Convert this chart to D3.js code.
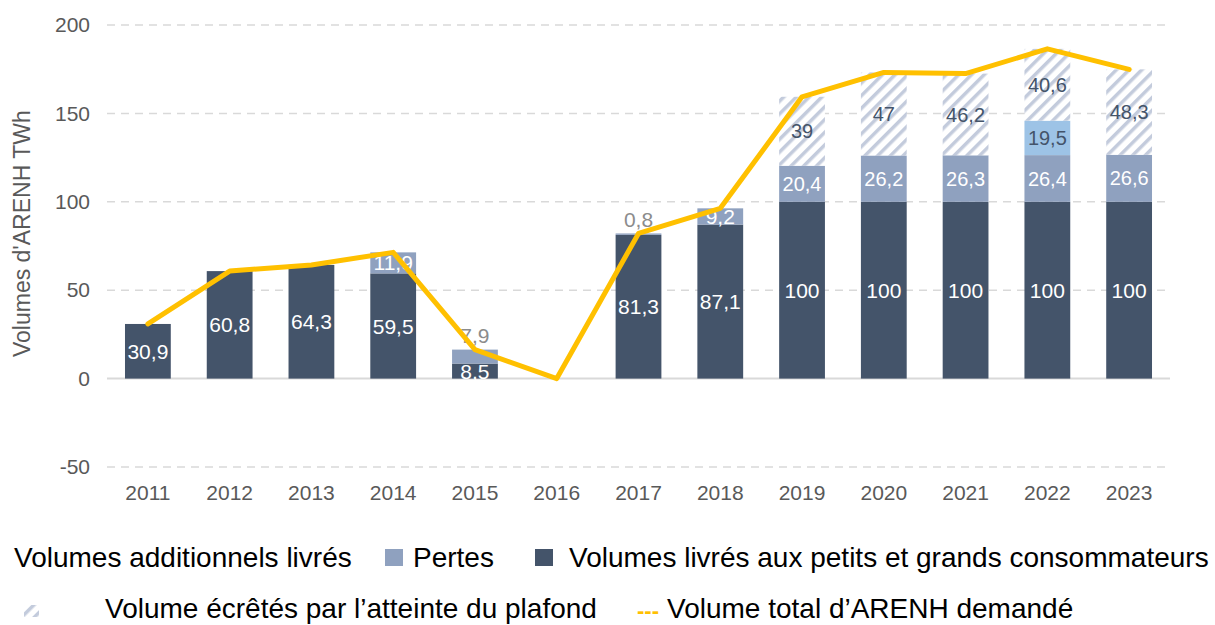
<!DOCTYPE html>
<html>
<head>
<meta charset="utf-8">
<script src="https://cdn.jsdelivr.net/npm/d3@7"></script>
<style>
  body { margin: 0; background: #fff; }
  svg text { font-family: "Liberation Sans", Arial, sans-serif; }
</style>
</head>
<body>
<div id="chart"></div>
<script>
'use strict';

var years = ['2011', '2012', '2013', '2014', '2015', '2016', '2017', '2018', '2019', '2020', '2021', '2022', '2023'];
var livres = [30.9, 60.8, 64.3, 59.5, 8.5, 0, 81.3, 87.1, 100, 100, 100, 100, 100];
var pertes = [0, 0, 0, 11.9, 7.9, 0, 0.8, 9.2, 20.4, 26.2, 26.3, 26.4, 26.6];
var additionnels = [0, 0, 0, 0, 0, 0, 0, 0, 0, 0, 0, 19.5, 0];
var ecretes = [0, 0, 0, 0, 0, 0, 0, 0, 39, 47, 46.2, 40.6, 48.3];
var demande = [30.9, 60.8, 64.3, 71.4, 16.4, 0, 82.1, 96.3, 159.4, 173.2, 172.5, 186.5, 174.9];
var yTicks = [-50, 0, 50, 100, 150, 200];

var W = 1215, H = 625;
var C_DARK = '#44546a', C_PERTES = '#8fa1bf', C_ADD = '#9dc3e6', C_HATCH = '#c3cbdc', C_LINE = '#ffc000';

var svg = d3.select('#chart').append('svg').attr('width', W).attr('height', H);

var defs = svg.append('defs');
var pat = defs.append('pattern')
    .attr('id', 'hatch')
    .attr('patternUnits', 'userSpaceOnUse')
    .attr('width', 9).attr('height', 9)
    .attr('patternTransform', 'rotate(45)');
pat.append('rect').attr('width', 9).attr('height', 9).attr('fill', '#fff');
pat.append('rect').attr('x', 0).attr('width', 3.5).attr('height', 9).attr('fill', C_HATCH);

var x = d3.scaleBand().domain(years).range([107, 1170]).paddingInner(0.44).paddingOuter(0.22);
var y = d3.scaleLinear().domain([-50, 200]).range([467, 25]);

// grid
var grid = svg.append('g');
grid.selectAll('line').data(yTicks).enter().append('line')
    .attr('x1', 107).attr('x2', 1170)
    .attr('y1', function (d) { return y(d); })
    .attr('y2', function (d) { return y(d); })
    .attr('stroke', '#d9d9d9')
    .attr('stroke-width', function (d) { return d === 0 ? 2 : 1.5; })
    .attr('stroke-dasharray', function (d) { return d === 0 ? null : '8,6'; });

// y axis labels
var yAxis = svg.append('g').attr('transform', 'translate(90,0)')
    .call(d3.axisLeft(y).tickValues(yTicks).tickSize(0).tickPadding(0)
        .tickFormat(function (d) { return String(d); }));
yAxis.select('.domain').remove();
yAxis.selectAll('text').attr('font-size', 21).attr('fill', '#595959')
    .attr('font-family', '"Liberation Sans", Arial, sans-serif');

svg.append('text')
    .attr('transform', 'translate(30,' + y(82) + ') rotate(-90)')
    .attr('text-anchor', 'middle')
    .attr('font-size', 23).attr('fill', '#595959')
    .text("Volumes d'ARENH TWh");

// x axis labels
var xAxis = svg.append('g').attr('transform', 'translate(0,485)')
    .call(d3.axisBottom(x).tickSize(0).tickPadding(0));
xAxis.select('.domain').remove();
xAxis.selectAll('text').attr('font-size', 21).attr('fill', '#595959')
    .attr('font-family', '"Liberation Sans", Arial, sans-serif');

// stacked bars
var series = [
    { key: 'livres', values: livres, fill: C_DARK },
    { key: 'pertes', values: pertes, fill: C_PERTES },
    { key: 'additionnels', values: additionnels, fill: C_ADD },
    { key: 'ecretes', values: ecretes, fill: 'url(#hatch)' }
];
var rows = years.map(function (yr, i) {
    var r = { year: yr };
    series.forEach(function (s) { r[s.key] = s.values[i]; });
    return r;
});
var stack = d3.stack().keys(series.map(function (s) { return s.key; }))(rows);

var bars = svg.append('g');
stack.forEach(function (layer, li) {
    bars.append('g').attr('fill', series[li].fill)
        .selectAll('rect').data(layer.filter(function (d) { return d[1] - d[0] > 0; }))
        .enter().append('rect')
        .attr('x', function (d) { return x(d.data.year); })
        .attr('width', x.bandwidth())
        .attr('y', function (d) { return y(d[1]); })
        .attr('height', function (d) { return y(d[0]) - y(d[1]); });
});

// value labels
var fmt = function (v) { return String(v).replace('.', ','); };
var labels = svg.append('g').attr('text-anchor', 'middle');
stack.forEach(function (layer, li) {
    layer.forEach(function (d) {
        var v = d[1] - d[0];
        if (v <= 0) return;
        var i = years.indexOf(d.data.year);
        var val = series[li].values[i];
        var cx = x(d.data.year) + x.bandwidth() / 2;
        var outside = li === 1 && (d.data.year === '2015' || d.data.year === '2017');
        var cy = outside ? y(d[1]) - 14 : y((d[0] + d[1]) / 2);
        var fill = '#fff';
        var fam = '"Liberation Sans", Arial, sans-serif';
        var size = 21;
        if (outside) fill = '#8c8c8c';
        if (li >= 2) { fill = C_DARK; fam = '"Open Sans", sans-serif'; size = 20; }
        if (li === 1 && i >= 8) { fam = '"Open Sans", sans-serif'; size = 20; }
        labels.append('text')
            .attr('x', cx).attr('y', cy)
            .attr('dy', '0.36em')
            .attr('font-size', size)
            .attr('font-family', fam)
            .attr('fill', fill)
            .text(fmt(val));
    });
});

// total demanded line
var line = d3.line()
    .x(function (d, i) { return x(years[i]) + x.bandwidth() / 2; })
    .y(function (d) { return y(d); });
svg.append('path').datum(demande)
    .attr('d', line)
    .attr('fill', 'none')
    .attr('stroke', C_LINE)
    .attr('stroke-width', 5)
    .attr('stroke-linejoin', 'round')
    .attr('stroke-linecap', 'round');

// legend
var lg = svg.append('g').attr('font-size', 28).attr('fill', '#000');
lg.append('text').attr('x', 14).attr('y', 567).text('Volumes additionnels livrés');
lg.append('rect').attr('x', 385).attr('y', 549).attr('width', 18).attr('height', 17).attr('fill', C_PERTES);
lg.append('text').attr('x', 413).attr('y', 567).text('Pertes');
lg.append('rect').attr('x', 535).attr('y', 549).attr('width', 18).attr('height', 17).attr('fill', C_DARK);
lg.append('text').attr('x', 569).attr('y', 567).text('Volumes livrés aux petits et grands consommateurs');
lg.append('rect').attr('x', 24).attr('y', 605).attr('width', 15).attr('height', 12).attr('fill', 'url(#hatch)');
lg.append('text').attr('x', 105).attr('y', 618).text('Volume écrêtés par l’atteinte du plafond');
lg.append('text').attr('x', 637).attr('y', 618).attr('font-size', 22).attr('fill', C_LINE).attr('font-weight', 'bold').text('---');
lg.append('text').attr('x', 667).attr('y', 618).text('Volume total d’ARENH demandé');
</script>
</body>
</html>
